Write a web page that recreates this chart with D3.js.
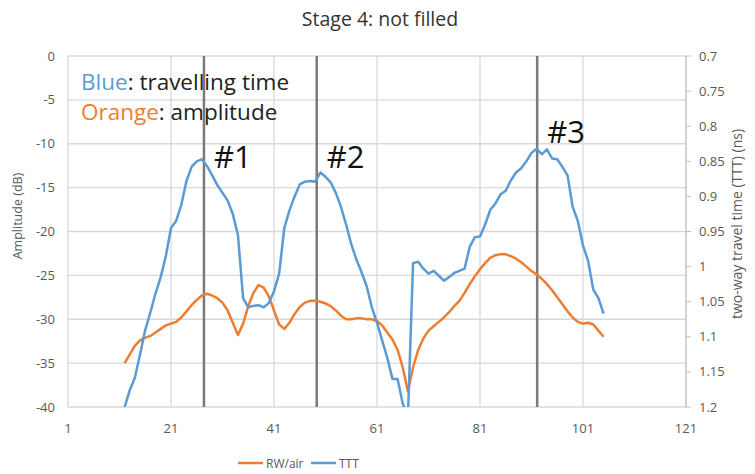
<!DOCTYPE html>
<html>
<head>
<meta charset="utf-8">
<script src="https://cdn.jsdelivr.net/npm/d3@7"></script>
<style>
  body { margin: 0; background: #fff; }
  svg { display: block; }
</style>
</head>
<body>
<svg id="chart" width="755" height="474"></svg>
<script>
// ---------- data ----------
const title = "Stage 4: not filled";
const xStart = 12;
const rwAir = [ // amplitude (dB), x = 12..105
  -35.0, -34.0, -33.0, -32.4, -32.1, -31.9, -31.5, -31.1, -30.7, -30.5,
  -30.3, -29.8, -29.1, -28.4, -27.8, -27.3, -27.1, -27.3, -27.6, -28.1,
  -29.0, -30.4, -31.8, -30.5, -28.5, -27.0, -26.1, -26.4, -27.4, -29.0,
  -30.6, -31.1, -30.4, -29.4, -28.6, -28.1, -27.9, -27.9, -28.0, -28.2,
  -28.5, -29.0, -29.6, -30.0, -30.0, -29.9, -29.9, -30.0, -30.0, -30.2,
  -30.7, -31.5, -32.3, -33.5, -35.5, -38.2, -35.5, -33.5, -32.2, -31.3,
  -30.8, -30.3, -29.8, -29.2, -28.5, -27.9, -27.0, -26.0, -25.1, -24.3,
  -23.6, -23.0, -22.7, -22.6, -22.6, -22.8, -23.1, -23.5, -24.0, -24.5,
  -24.9, -25.4, -26.0, -26.7, -27.5, -28.3, -29.1, -29.8, -30.3, -30.5,
  -30.4, -30.6, -31.3, -32.0
];
const ttt = [ // two-way travel time (ns), x = 12..105
  1.200, 1.176, 1.158, 1.125, 1.090, 1.065, 1.038, 1.015, 0.985, 0.945,
  0.935, 0.912, 0.878, 0.858, 0.850, 0.847, 0.857, 0.870, 0.884, 0.895,
  0.906, 0.925, 0.955, 1.045, 1.058, 1.056, 1.055, 1.058, 1.052, 1.035,
  1.010, 0.945, 0.920, 0.900, 0.883, 0.879, 0.878, 0.879, 0.866, 0.872,
  0.880, 0.895, 0.915, 0.940, 0.968, 0.990, 1.008, 1.028, 1.058, 1.080,
  1.105, 1.130, 1.160, 1.160, 1.195, 1.215, 0.995, 0.993, 1.003, 1.010,
  1.006, 1.013, 1.020, 1.015, 1.009, 1.006, 1.003, 0.972, 0.958, 0.957,
  0.940, 0.919, 0.910, 0.897, 0.892, 0.877, 0.866, 0.860, 0.850, 0.838,
  0.832, 0.840, 0.833, 0.846, 0.847, 0.858, 0.870, 0.915, 0.935, 0.970,
  0.992, 1.033, 1.045, 1.067
];
const xTicks = [1, 21, 41, 61, 81, 101, 121];
const leftTicks = [0, -5, -10, -15, -20, -25, -30, -35, -40];
const rightTicks = [0.7, 0.75, 0.8, 0.85, 0.9, 0.95, 1, 1.05, 1.1, 1.15, 1.2];
const markerX = [27.4, 49.3, 92.1];
const markerLabels = ["#1", "#2", "#3"];
const markerLabelLevel = [0.8595, 0.8595, 0.824]; // baseline position on TTT axis
const seriesNames = ["RW/air", "TTT"];
const colors = { orange: "#ED7D31", blue: "#5B9BD5" };

// ---------- layout ----------
const svg = d3.select("#chart");
const L = 68, R = 686, T = 56, B = 407;
const x = d3.scaleLinear().domain([1, 121]).range([L, R]);
const yL = d3.scaleLinear().domain([-40, 0]).range([B, T]);
const yR = d3.scaleLinear().domain([0.7, 1.2]).range([T, B]);
const font = "'Open Sans', 'Noto Sans', sans-serif";
const axisColor = "#595959";

// title
svg.append("text").attr("x", 380).attr("y", 26).attr("text-anchor", "middle")
  .attr("font-family", font).attr("font-size", 19.5).attr("fill", "#333")
  .text(title);

// gridlines
const grid = svg.append("g");
grid.selectAll("line.h").data(leftTicks).join("line")
  .attr("x1", L).attr("x2", R).attr("y1", d => yL(d)).attr("y2", d => yL(d))
  .attr("stroke", "#d9d9d9").attr("stroke-width", 1.3);
grid.selectAll("line.v").data(xTicks).join("line")
  .attr("y1", T).attr("y2", B).attr("x1", d => x(d)).attr("x2", d => x(d))
  .attr("stroke", "#d9d9d9").attr("stroke-width", 1.3);

// right axis line + ticks
svg.append("line").attr("x1", R).attr("x2", R).attr("y1", T).attr("y2", B)
  .attr("stroke", "#bfbfbf").attr("stroke-width", 1);
svg.selectAll("line.rt").data(rightTicks).join("line")
  .attr("x1", R).attr("x2", R + 5).attr("y1", d => yR(d)).attr("y2", d => yR(d))
  .attr("stroke", "#bfbfbf");

// tick labels
const tickSize = 13;
svg.selectAll("text.lt").data(leftTicks).join("text")
  .attr("x", 55).attr("y", d => yL(d) + 4.5).attr("text-anchor", "end")
  .attr("font-family", font).attr("font-size", tickSize).attr("fill", axisColor)
  .text(d => d);
svg.selectAll("text.rt").data(rightTicks).join("text")
  .attr("x", 699).attr("y", d => yR(d) + 4.5).attr("text-anchor", "start")
  .attr("font-family", font).attr("font-size", tickSize).attr("fill", axisColor)
  .text(d => d);
svg.selectAll("text.xt").data(xTicks).join("text")
  .attr("x", d => x(d)).attr("y", 433).attr("text-anchor", "middle")
  .attr("font-family", font).attr("font-size", tickSize).attr("fill", axisColor)
  .text(d => d);

// axis titles
svg.append("text").attr("transform", `translate(22,216) rotate(-90)`)
  .attr("text-anchor", "middle").attr("font-family", font).attr("font-size", 12.5)
  .attr("fill", axisColor).text("Amplitude (dB)");
svg.append("text").attr("transform", `translate(742,224) rotate(-90)`)
  .attr("text-anchor", "middle").attr("font-family", font).attr("font-size", 14)
  .attr("fill", axisColor).text("two-way travel time (TTT) (ns)");

// clip
svg.append("clipPath").attr("id", "plotclip").append("rect")
  .attr("x", L).attr("y", T - 1).attr("width", R - L).attr("height", B - T + 1);

// marker lines
svg.selectAll("line.mk").data(markerX).join("line")
  .attr("x1", d => x(d)).attr("x2", d => x(d)).attr("y1", T).attr("y2", B)
  .attr("stroke", "#7a7a7a").attr("stroke-width", 2.5);

// series
const plot = svg.append("g").attr("clip-path", "url(#plotclip)");
const lineL = d3.line().x((d, i) => x(xStart + i)).y(d => yL(d));
const lineR = d3.line().x((d, i) => x(xStart + i)).y(d => yR(d));
plot.append("path").datum(rwAir).attr("d", lineL).attr("fill", "none")
  .attr("stroke", colors.orange).attr("stroke-width", 2.5).attr("stroke-linejoin", "round");
plot.append("path").datum(ttt).attr("d", lineR).attr("fill", "none")
  .attr("stroke", colors.blue).attr("stroke-width", 2.5).attr("stroke-linejoin", "round");

// marker labels
svg.selectAll("text.ml").data(markerX).join("text")
  .attr("x", d => x(d) + 10).attr("y", (d, i) => yR(markerLabelLevel[i]))
  .attr("font-family", font).attr("font-size", 31).attr("fill", "#111")
  .text((d, i) => markerLabels[i]);

// annotations
const ann = svg.append("g").attr("font-family", font).attr("font-size", 22.5);
const t1 = ann.append("text").attr("x", 81).attr("y", 90);
t1.append("tspan").attr("fill", colors.blue).text("Blue");
t1.append("tspan").attr("fill", "#222").text(": travelling time");
const t2 = ann.append("text").attr("x", 81).attr("y", 120);
t2.append("tspan").attr("fill", colors.orange).text("Orange");
t2.append("tspan").attr("fill", "#222").text(": amplitude");

// legend
const leg = svg.append("g").attr("font-family", font).attr("font-size", 12).attr("fill", axisColor);
const legItems = [
  { name: seriesNames[0], color: colors.orange, x0: 238 },
  { name: seriesNames[1], color: colors.blue, x0: 311 }
];
legItems.forEach(it => {
  leg.append("line").attr("x1", it.x0).attr("x2", it.x0 + 25).attr("y1", 463).attr("y2", 463)
    .attr("stroke", it.color).attr("stroke-width", 2.5);
  leg.append("text").attr("x", it.x0 + 28).attr("y", 467.5).text(it.name);
});
</script>
</body>
</html>
